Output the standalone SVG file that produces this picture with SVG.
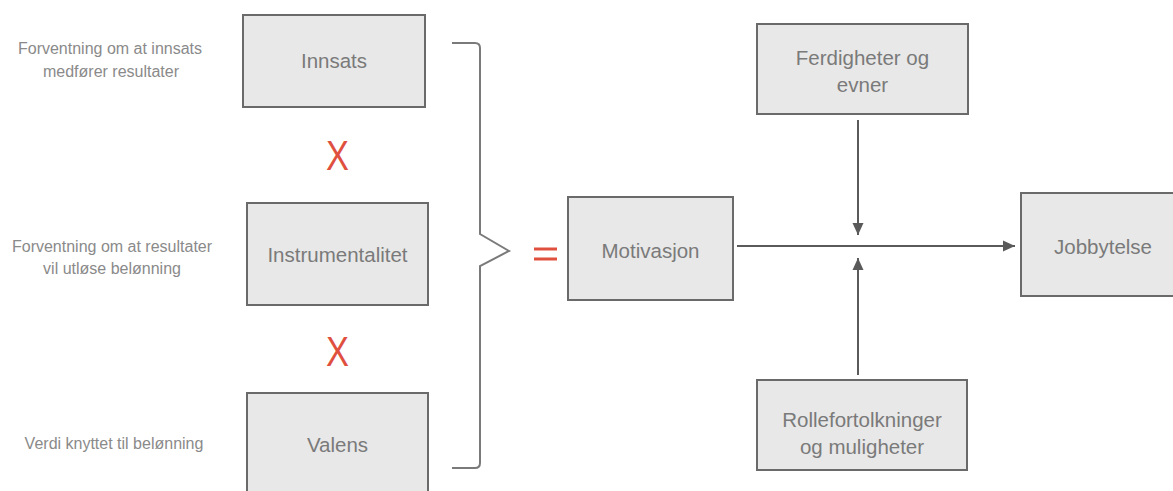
<svg xmlns="http://www.w3.org/2000/svg" width="1173" height="491" viewBox="0 0 1173 491">
  <style>
    .box { fill: #e8e8e8; stroke: #6a6a6a; stroke-width: 2; }
    .label { font-family: "Liberation Sans", Arial, sans-serif; font-size: 20.5px; fill: #7a7a7a; text-anchor: middle; }
    .side { font-family: "Liberation Sans", Arial, sans-serif; font-size: 16px; fill: #8a8a8a; text-anchor: middle; }
    .op { font-family: "Liberation Sans", Arial, sans-serif; fill: #e0503f; text-anchor: middle; }
    .wire { fill: none; stroke: #5a5a5a; stroke-width: 2; }
    .brace { fill: none; stroke: #7a7a7a; stroke-width: 2; }
  </style>
  <defs>
    <marker id="arrow" viewBox="0 0 12 12" refX="12" refY="6" markerWidth="12" markerHeight="12" markerUnits="userSpaceOnUse" orient="auto">
      <path d="M0,0.5 L12,6 L0,11.5 Z" fill="#5a5a5a"/>
    </marker>
  </defs>

  <rect width="1173" height="491" fill="#ffffff"/>

  <!-- side descriptions -->
  <g id="desc-innsats">
    <text class="side" x="110" y="54">Forventning om at innsats</text>
    <text class="side" x="111" y="77">medfører resultater</text>
  </g>
  <g id="desc-instrumentalitet">
    <text class="side" x="112" y="252">Forventning om at resultater</text>
    <text class="side" x="112" y="274">vil utløse belønning</text>
  </g>
  <g id="desc-valens">
    <text class="side" x="114" y="449">Verdi knyttet til belønning</text>
  </g>

  <!-- expectancy factors -->
  <g id="innsats">
    <rect class="box" x="243" y="15" width="182" height="92"/>
    <text class="label" x="334" y="68">Innsats</text>
  </g>
  <g id="times-1">
    <text class="op" x="337.5" y="170" font-size="42" transform="translate(337.5 0) scale(0.82 1) translate(-337.5 0)">X</text>
  </g>
  <g id="instrumentalitet">
    <rect class="box" x="247" y="203" width="181" height="102"/>
    <text class="label" x="337.5" y="262">Instrumentalitet</text>
  </g>
  <g id="times-2">
    <text class="op" x="337.5" y="366" font-size="42" transform="translate(337.5 0) scale(0.82 1) translate(-337.5 0)">X</text>
  </g>
  <g id="valens">
    <rect class="box" x="247" y="393" width="181" height="104"/>
    <text class="label" x="337.5" y="452">Valens</text>
  </g>

  <!-- brace grouping the three factors -->
  <g id="brace">
    <path class="brace" d="M452,43 H475 Q480,43 480,48 V234 L509,251 L480,266 V463 Q480,468 475,468 H452"/>
  </g>
  <g id="equals">
    <rect x="534" y="247.5" width="23" height="3" fill="#e0503f"/>
    <rect x="534" y="257.5" width="23" height="3" fill="#e0503f"/>
  </g>

  <!-- outcome chain -->
  <g id="motivasjon">
    <rect class="box" x="568" y="197" width="165" height="103"/>
    <text class="label" x="650.5" y="258">Motivasjon</text>
  </g>
  <g id="ferdigheter">
    <rect class="box" x="757" y="24" width="211" height="90"/>
    <text class="label" x="862.5" y="65">Ferdigheter og</text>
    <text class="label" x="862.5" y="92">evner</text>
  </g>
  <g id="rollefortolkninger">
    <rect class="box" x="757" y="380" width="210" height="90"/>
    <text class="label" x="862" y="427">Rollefortolkninger</text>
    <text class="label" x="862" y="454">og muligheter</text>
  </g>
  <g id="jobbytelse">
    <rect class="box" x="1021" y="193" width="165" height="103"/>
    <text class="label" x="1103" y="254">Jobbytelse</text>
  </g>

  <!-- connectors -->
  <g id="connectors">
    <line class="wire" x1="737" y1="246" x2="1015" y2="246" marker-end="url(#arrow)"/>
    <line class="wire" x1="858" y1="120" x2="858" y2="235" marker-end="url(#arrow)"/>
    <line class="wire" x1="858" y1="375" x2="858" y2="258" marker-end="url(#arrow)"/>
  </g>
</svg>
